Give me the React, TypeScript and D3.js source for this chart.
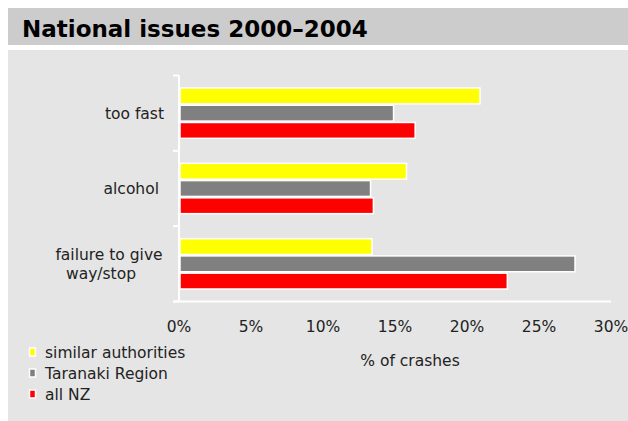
import React from "react";
import * as d3 from "d3";

const categories = ["too fast", "alcohol", "failure to give way/stop"];
const categoryLines = [["too fast"], ["alcohol"], ["failure to give", "way/stop"]];
const seriesNames = ["similar authorities", "Taranaki Region", "all NZ"];
const seriesColors = ["#ffff00", "#808080", "#ff0000"];
const similarAuthorities = [20.9, 15.8, 13.4];
const taranakiRegion = [14.9, 13.3, 27.5];
const allNZ = [16.4, 13.5, 22.8];
const xTicks = [0, 5, 10, 15, 20, 25, 30];

const seriesValues = [similarAuthorities, taranakiRegion, allNZ];

const W = 628;
const H = 421;
const FONT = "'DejaVu Sans', Verdana, sans-serif";

export default function App() {
  const x = d3.scaleLinear().domain([0, 30]).range([179, 611]);
  const y = d3.scaleBand<string>().domain(categories).range([75.5, 301.5]).padding(0);
  const inner = d3
    .scaleBand<string>()
    .domain(seriesNames)
    .range([12.5, y.bandwidth() - 12.5])
    .paddingInner(0.08);

  const boundaries = categories.map((c) => y(c)!).concat([y.range()[1]]);
  const lineX = [[164], [159], [109, 101]];
  const lineAnchor = ["end", "end", "middle"];

  return (
    <svg
      width={W}
      height={H}
      style={{ position: "absolute", left: 0, top: 0, display: "block" }}
      fontFamily={FONT}
    >
      <rect x={0} y={0} width={W} height={H} fill="#ffffff" />
      <rect x={8} y={8} width={W - 8} height={37} fill="#cccccc" />
      <text x={22} y={37} fontSize={23} fontWeight="bold" fill="#000">
        National issues 2000–2004
      </text>
      <rect x={8} y={50} width={W - 8} height={H - 50} fill="#e5e5e5" />

      {/* bars */}
      {categories.map((c, ci) =>
        seriesNames.map((s, si) => (
          <rect
            key={c + s}
            x={x(0) + 1}
            y={y(c)! + inner(s)!}
            width={x(seriesValues[si][ci]) - x(0) - 1}
            height={inner.bandwidth()}
            fill={seriesColors[si]}
            stroke="#ffffff"
            strokeWidth={1.5}
          />
        ))
      )}

      {/* axes */}
      <line x1={x(0)} x2={x(0)} y1={y.range()[0]} y2={y.range()[1]} stroke="#fff" strokeWidth={2} />
      {boundaries.map((b, i) => (
        <line key={i} x1={x(0) - 6} x2={x(0)} y1={b} y2={b} stroke="#fff" strokeWidth={2} />
      ))}
      <line x1={x(0) - 6} x2={x(30)} y1={y.range()[1]} y2={y.range()[1]} stroke="#fff" strokeWidth={2} />

      {xTicks.map((t) => (
        <text key={t} x={x(t)} y={332} textAnchor="middle" fontSize={15.5} fill="#222">
          {t}%
        </text>
      ))}
      <text x={410} y={366} textAnchor="middle" fontSize={15.5} fill="#222">
        % of crashes
      </text>

      {/* category labels */}
      {categories.map((c, ci) => {
        const lines = categoryLines[ci];
        const cy = y(c)! + y.bandwidth() / 2;
        const lh = 19;
        return lines.map((ln, li) => (
          <text
            key={c + li}
            x={lineX[ci][li]}
            y={cy + (li - (lines.length - 1) / 2) * lh + 5.5}
            textAnchor={lineAnchor[ci]}
            fontSize={15.5}
            fill="#222"
          >
            {ln}
          </text>
        ));
      })}

      {/* legend */}
      {seriesNames.map((s, i) => (
        <g key={s} transform={`translate(0, ${352.5 + i * 21})`}>
          <rect x={29.5} y={-4.5} width={6} height={8} fill={seriesColors[i]} stroke="#fff" strokeWidth={1.5} />
          <text x={45} y={5.5} fontSize={15.5} fill="#222">
            {s}
          </text>
        </g>
      ))}
    </svg>
  );
}
